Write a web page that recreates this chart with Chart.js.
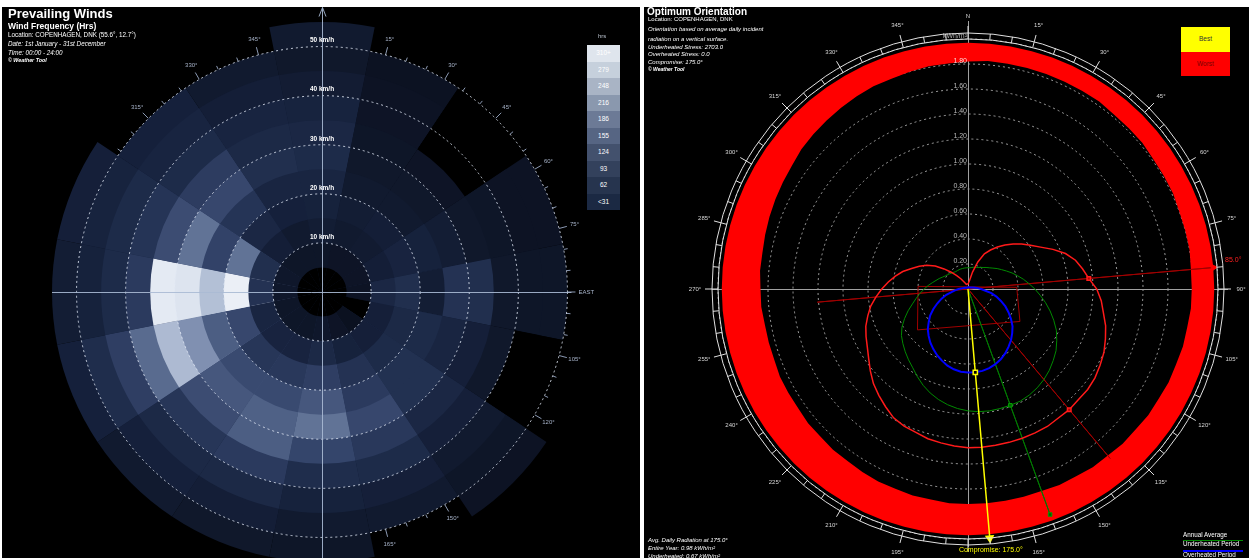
<!DOCTYPE html>
<html>
<head>
<meta charset="utf-8">
<title>Prevailing Winds / Optimum Orientation</title>
<script src="https://cdn.jsdelivr.net/npm/chart.js@4.4.1/dist/chart.umd.min.js"></script>
<style>
  html, body { margin: 0; padding: 0; background: #fff; }
  body { width: 1249px; height: 558px; position: relative; overflow: hidden;
         font-family: "Liberation Sans", Arial, sans-serif; }
  .panel { position: absolute; top: 7px; height: 551px; background: #000; overflow: hidden; }
  #windPanel { left: 2px; width: 638px; }
  #orientPanel { left: 644px; width: 605px; }
  canvas { position: absolute; left: 0; top: 0; }
  .t { position: absolute; color: #fff; white-space: nowrap; }
  .b { font-weight: bold; }
  .i { font-style: italic; }
  #hrsLegend { position: absolute; left: 585px; top: 38px; width: 33px; }
  #hrsLegend div { height: 16.5px; line-height: 16.5px; text-align: center; color: #fff; font-size: 6.5px; }
  #bestWorst { position: absolute; left: 537px; top: 20px; width: 49px; }
  #bestWorst div { height: 24.5px; line-height: 24.5px; text-align: center; font-size: 6.5px; }
  .uline { position: absolute; height: 1px; }
</style>
</head>
<body>
<div class="panel" id="windPanel">
  <canvas id="windChart" width="638" height="600"></canvas>
  <div class="t b" style="left:6px;top:0px;font-size:13px;line-height:13px">Prevailing Winds</div>
  <div class="t b" style="left:6px;top:15px;font-size:8.5px;line-height:8.5px">Wind Frequency (Hrs)</div>
  <div class="t" style="left:6px;top:25px;font-size:6.3px;line-height:6.3px">Location: COPENHAGEN, DNK (55.6°, 12.7°)</div>
  <div class="t i" style="left:6px;top:34px;font-size:6.3px;line-height:6.3px">Date: 1st January - 31st December</div>
  <div class="t i" style="left:6px;top:43px;font-size:6.3px;line-height:6.3px">Time: 00:00 - 24:00</div>
  <div class="t b i" style="left:6px;top:51px;font-size:5.3px;line-height:5.3px">© Weather Tool</div>
  <div class="t" style="left:596px;top:26px;font-size:6px;line-height:6px;color:#b8c0cc">hrs</div>
  <div id="hrsLegend"></div>
</div>
<div class="panel" id="orientPanel">
  <canvas id="orientChart" width="605" height="551"></canvas>
  <div class="t b" style="left:3px;top:0px;font-size:10px;line-height:10px">Optimum Orientation</div>
  <div class="t" style="left:4px;top:9px;font-size:6px;line-height:6px">Location: COPENHAGEN, DNK</div>
  <div class="t i" style="left:4px;top:19px;font-size:6px;line-height:6px">Orientation based on average daily incident</div>
  <div class="t i" style="left:4px;top:29px;font-size:6px;line-height:6px">radiation on a vertical surface.</div>
  <div class="t i" style="left:4px;top:37px;font-size:6px;line-height:6px">Underheated Stress: 2703.0</div>
  <div class="t i" style="left:4px;top:44px;font-size:6px;line-height:6px">Overheated Stress: 0.0</div>
  <div class="t i" style="left:4px;top:52px;font-size:6px;line-height:6px">Compromise: 175.0°</div>
  <div class="t b i" style="left:4px;top:60px;font-size:5px;line-height:5px">© Weather Tool</div>
  <div class="t i" style="left:4px;top:530px;font-size:6px;line-height:6px">Avg. Daily Radiation at 175.0°</div>
  <div class="t i" style="left:4px;top:538px;font-size:6px;line-height:6px">Entire Year: 0.98 kWh/m²</div>
  <div class="t i" style="left:4px;top:546px;font-size:6px;line-height:6px">Underheated: 0.67 kWh/m²</div>
  <div class="t" style="left:539px;top:525px;font-size:6.3px;line-height:6.3px">Annual Average</div>
  <div class="uline" style="left:539px;top:533px;width:60px;background:#008a00"></div>
  <div class="t" style="left:539px;top:534px;font-size:6.3px;line-height:6.3px">Underheated Period</div>
  <div class="uline" style="left:539px;top:543px;width:60px;height:2px;background:#0000ff"></div>
  <div class="t" style="left:539px;top:545px;font-size:6.3px;line-height:6.3px">Overheated Period</div>
  <div id="bestWorst">
    <div style="background:#ffff00;color:#333">Best</div>
    <div style="background:#ff0000;color:#700">Worst</div>
  </div>
</div>
<script>
// ---------- Prevailing winds data (hours per direction, per 5 km/h band) ----------
const directions = ['N','NNE','NE','ENE','E','ESE','SE','SSE','S','SSW','SW','WSW','W','WNW','NW','NNW'];
const speedEdges = [5, 10, 15, 20, 25, 30, 35, 40, 45, 50, 55];
const kmhRings = [10, 20, 30, 40, 50];

const hrs0to5   = [0, 0, 0, 0, 0, 0, 0, 0, 0, 0, 0, 0, 0, 0, 0, 0];
const hrs5to10  = [12, 10, 10, 10, 8, 0, 4, 10, 15, 12, 12, 12, 15, 15, 12, 12];
const hrs10to15 = [25, 20, 22, 28, 50, 30, 30, 35, 55, 40, 40, 45, 80, 70, 28, 20];
const hrs15to20 = [35, 25, 28, 40, 70, 55, 60, 80, 110, 95, 90, 130, 340, 200, 50, 32];
const hrs20to25 = [45, 20, 20, 35, 25, 60, 75, 100, 160, 135, 135, 170, 280, 120, 85, 45];
const hrs25to30 = [60, 16, 16, 25, 80, 45, 75, 130, 200, 175, 160, 235, 320, 200, 130, 70];
const hrs30to35 = [50, 12, 10, 16, 70, 30, 50, 95, 125, 170, 140, 275, 330, 140, 105, 55];
const hrs35to40 = [38, 10, 0, 12, 16, 16, 30, 60, 65, 100, 90, 190, 100, 85, 60, 42];
const hrs40to45 = [24, 8, 0, 8, 12, 0, 20, 30, 35, 55, 55, 110, 60, 60, 42, 28];
const hrs45to50 = [16, 6, 0, 8, 12, 0, 12, 20, 20, 28, 32, 65, 35, 38, 32, 20];
const hrs50to55 = [20, 0, 0, 0, 0, 0, 8, 0, 12, 16, 20, 32, 25, 30, 0, 0];
const speedHours = [hrs0to5, hrs5to10, hrs10to15, hrs15to20, hrs20to25, hrs25to30,
                    hrs30to35, hrs35to40, hrs40to45, hrs45to50, hrs50to55];

const legendLabels = ['310+', '279', '248', '216', '186', '155', '124', '93', '62', '<31'];
const legendColors = ['#dfe5ed', '#c6d0dc', '#a9b4c5', '#8a98ae', '#6c7a96',
                      '#566583', '#43516d', '#33415c', '#26344e', '#1b2943'];

// ---------- Optimum orientation data (kWh/m² by facing angle, 5° steps) ----------
const facing = [];
for (let a = 0; a < 360; a += 5) facing.push(a + '°');

const overheatedRad = [0.04, 0.05, 0.07, 0.14, 0.23, 0.31, 0.36, 0.41, 0.46, 0.51, 0.56, 0.61,
  0.67, 0.75, 0.83, 0.89, 0.93, 0.97, 1.03, 1.07, 1.10, 1.14, 1.17, 1.20,
  1.22, 1.24, 1.25, 1.25, 1.26, 1.26, 1.27, 1.27, 1.27, 1.27, 1.27, 1.27,
  1.27, 1.26, 1.25, 1.24, 1.22, 1.21, 1.19, 1.15, 1.11, 1.07, 1.02, 0.97,
  0.93, 0.90, 0.87, 0.83, 0.79, 0.74, 0.69, 0.64, 0.59, 0.54, 0.48, 0.43,
  0.38, 0.32, 0.25, 0.19, 0.14, 0.10, 0.07, 0.05, 0.04, 0.04, 0.04, 0.04];
const annualRad = [0.17, 0.17, 0.175, 0.18, 0.185, 0.19, 0.20, 0.21, 0.225, 0.24, 0.26, 0.285,
  0.31, 0.34, 0.375, 0.41, 0.45, 0.49, 0.535, 0.58, 0.63, 0.68, 0.73, 0.78,
  0.82, 0.86, 0.89, 0.92, 0.945, 0.965, 0.98, 0.99, 0.99, 0.99, 0.99, 0.985,
  0.975, 0.96, 0.94, 0.915, 0.885, 0.85, 0.81, 0.77, 0.74, 0.71, 0.68, 0.65,
  0.61, 0.56, 0.51, 0.46, 0.42, 0.385, 0.35, 0.32, 0.29, 0.265, 0.245, 0.225,
  0.21, 0.20, 0.19, 0.18, 0.175, 0.17, 0.17, 0.17, 0.17, 0.17, 0.17, 0.17];
const underheatedRad = [0.012, 0.012, 0.013, 0.013, 0.014, 0.014, 0.015, 0.016, 0.017, 0.018, 0.02, 0.022,
  0.025, 0.03, 0.036, 0.045, 0.06, 0.08, 0.105, 0.135, 0.19, 0.235, 0.28, 0.33,
  0.375, 0.42, 0.465, 0.50, 0.535, 0.565, 0.595, 0.62, 0.64, 0.655, 0.665, 0.668,
  0.668, 0.664, 0.652, 0.635, 0.61, 0.585, 0.555, 0.525, 0.49, 0.455, 0.41, 0.37,
  0.32, 0.27, 0.225, 0.18, 0.13, 0.10, 0.075, 0.055, 0.04, 0.032, 0.027, 0.022,
  0.02, 0.018, 0.016, 0.015, 0.014, 0.013, 0.013, 0.012, 0.012, 0.012, 0.012, 0.012];
const bandInner = [1.82, 1.83, 1.83, 1.83, 1.83, 1.83, 1.83, 1.83, 1.82, 1.82, 1.82, 1.81,
  1.81, 1.81, 1.80, 1.80, 1.80, 1.79, 1.79, 1.79, 1.78, 1.78, 1.77, 1.77,
  1.76, 1.76, 1.75, 1.75, 1.74, 1.74, 1.73, 1.73, 1.72, 1.72, 1.72, 1.72,
  1.72, 1.72, 1.71, 1.71, 1.70, 1.70, 1.69, 1.68, 1.68, 1.67, 1.67, 1.66,
  1.66, 1.66, 1.65, 1.65, 1.65, 1.66, 1.66, 1.67, 1.67, 1.68, 1.69, 1.70,
  1.71, 1.72, 1.74, 1.75, 1.76, 1.77, 1.78, 1.79, 1.79, 1.80, 1.81, 1.81];
const bandOuter = 1.97;

const bestAngle = 85, bestValue = 1.97, bestBackValue = 1.21;
const worstAngle = 140, worstValue = 1.77;
const annualBestAngle = 160, annualBestValue = 1.92;
const compromiseAngle = 175, compromiseValue = 2.0, compromiseUnder = 0.67;
const buildingOutline = [[273, 0.40], [231, 0.52], [122, 0.49], [88, 0.39]];
const radRings = [0.2, 0.4, 0.6, 0.8, 1.0, 1.2, 1.4, 1.6, 1.8];

// ---------- helpers ----------
function hex(c) { return [1, 3, 5].map(i => parseInt(c.substr(i, 2), 16)); }
const shadeSteps  = [0, 31, 62, 93, 124, 155, 186, 216, 248, 279, 310, 345];
const shadeColors = ['#0a0f1c', '#15203a', '#1e2c4a', '#28375a', '#34446a', '#43547a',
                     '#56688c', '#6e7fa2', '#8d9cbb', '#b2bfd5', '#d6dfec', '#eef2f8'];
function hoursColor(h) {
  for (let i = 1; i < shadeSteps.length; i++) {
    if (h <= shadeSteps[i] || i === shadeSteps.length - 1) {
      const t = Math.min(1, (h - shadeSteps[i - 1]) / (shadeSteps[i] - shadeSteps[i - 1]));
      const a = hex(shadeColors[i - 1]), b = hex(shadeColors[i]);
      return 'rgb(' + a.map((v, k) => Math.round(v + (b[k] - v) * t)).join(',') + ')';
    }
  }
}
function polarXY(scale, deg, dist) {
  const a = (deg - 90) * Math.PI / 180;
  return [scale.xCenter + Math.cos(a) * dist, scale.yCenter + Math.sin(a) * dist];
}

legendLabels.forEach((lab, i) => {
  const d = document.createElement('div');
  d.style.background = legendColors[i];
  d.textContent = lab;
  document.getElementById('hrsLegend').appendChild(d);
});

// ---------- wind rose ----------
const windDecor = {
  id: 'windDecor',
  beforeDatasetsDraw(chart) {
    const s = chart.scales.r, ctx = chart.ctx;
    const R = s.getDistanceFromCenterForValue(50);
    ctx.save();
    ctx.strokeStyle = '#8c9ab4';
    ctx.fillStyle = '#a6b2c8';
    ctx.lineWidth = 1;
    ctx.font = '6px "Liberation Sans", Arial, sans-serif';
    ctx.textAlign = 'center';
    ctx.textBaseline = 'middle';
    for (let d = 0; d < 360; d += 5) {
      const major = d % 15 === 0;
      const p1 = polarXY(s, d, R), p2 = polarXY(s, d, R + (major ? 8 : 4));
      ctx.beginPath(); ctx.moveTo(p1[0], p1[1]); ctx.lineTo(p2[0], p2[1]); ctx.stroke();
      if (major && d !== 0) {
        const p = polarXY(s, d, R + (d === 90 ? 19 : 16));
        ctx.fillText(d === 90 ? 'EAST' : d + '°', p[0], p[1]);
      }
    }
    ctx.restore();
  },
  afterDraw(chart) {
    const s = chart.scales.r, ctx = chart.ctx;
    const cx = s.xCenter, cy = s.yCenter;
    const R = s.getDistanceFromCenterForValue(50);
    ctx.save();
    // dotted speed rings drawn over the cells
    ctx.strokeStyle = 'rgba(225,232,245,0.85)';
    ctx.setLineDash([2, 3]);
    kmhRings.forEach(v => {
      ctx.beginPath();
      ctx.arc(cx, cy, s.getDistanceFromCenterForValue(v), 0, Math.PI * 2);
      ctx.stroke();
    });
    ctx.setLineDash([]);
    ctx.strokeStyle = 'rgba(170,186,212,0.9)';
    ctx.lineWidth = 1;
    ctx.beginPath();
    ctx.moveTo(cx - s.drawingArea, cy + 0.5); ctx.lineTo(cx + R + 4, cy + 0.5);
    ctx.moveTo(cx + 0.5, cy - R - 39); ctx.lineTo(cx + 0.5, cy + s.drawingArea + 20);
    ctx.moveTo(cx - 3, cy - R - 30); ctx.lineTo(cx + 0.5, cy - R - 39); ctx.lineTo(cx + 4, cy - R - 30);
    ctx.stroke();
    ctx.fillStyle = '#ffffff';
    ctx.font = 'bold 6.5px "Liberation Sans", Arial, sans-serif';
    ctx.textAlign = 'center';
    ctx.textBaseline = 'middle';
    kmhRings.forEach(v => ctx.fillText(v + ' km/h', cx, cy - s.getDistanceFromCenterForValue(v) - 6));
    ctx.restore();
  }
};

new Chart(document.getElementById('windChart'), {
  type: 'polarArea',
  data: {
    labels: directions,
    datasets: speedEdges.map((edge, k) => ({
      label: (edge - 5) + '-' + edge + ' km/h',
      data: directions.map(() => edge),
      backgroundColor: speedHours[k].map(h => h > 0 ? hoursColor(h)
        : (k === speedEdges.length - 1 ? 'rgba(0,0,0,0)' : '#000000')),
      borderWidth: 0
    }))
  },
  options: {
    responsive: false,
    animation: false,
    events: [],
    devicePixelRatio: 1,
    layout: { padding: { left: 50, right: 48, top: 15, bottom: 45 } },
    plugins: { legend: { display: false }, tooltip: { enabled: false } },
    scales: {
      r: {
        min: 0, max: 55, startAngle: -11.25,
        ticks: { display: false, stepSize: 10, showLabelBackdrop: false },
        pointLabels: { display: false },
        angleLines: { display: false },
        grid: { display: false }
      }
    }
  },
  plugins: [windDecor]
});

// ---------- optimum orientation ----------
const orientDecor = {
  id: 'orientDecor',
  beforeDatasetsDraw(chart) {
    const s = chart.scales.r, ctx = chart.ctx;
    const cx = s.xCenter, cy = s.yCenter, R = s.drawingArea;
    ctx.save();
    ctx.strokeStyle = '#a0a0a0';
    ctx.lineWidth = 1;
    ctx.beginPath();
    ctx.moveTo(cx - R - 6, cy + 0.5); ctx.lineTo(cx + R + 10, cy + 0.5);
    ctx.moveTo(cx + 0.5, cy - R - 18); ctx.lineTo(cx + 0.5, cy + R + 8);
    ctx.stroke();
    ctx.strokeStyle = '#a00000';
    ctx.beginPath();
    buildingOutline.forEach((p, i) => {
      const q = polarXY(s, p[0], s.getDistanceFromCenterForValue(p[1]));
      if (i === 0) ctx.moveTo(q[0], q[1]); else ctx.lineTo(q[0], q[1]);
    });
    ctx.closePath();
    ctx.stroke();
    ctx.restore();
  },
  afterDraw(chart) {
    const s = chart.scales.r, ctx = chart.ctx;
    const cx = s.xCenter, cy = s.yCenter;
    const R = s.getDistanceFromCenterForValue(2);
    ctx.save();
    ctx.font = '7px "Liberation Sans", Arial, sans-serif';
    ctx.textAlign = 'right';
    ctx.textBaseline = 'middle';
    radRings.forEach(v => {
      ctx.fillStyle = v > 1.7 ? '#ffd0d0' : '#b8b8b8';
      ctx.fillText(v.toFixed(2), cx - 1, cy - s.getDistanceFromCenterForValue(v) - 3);
    });
    ctx.fillStyle = '#b0b0b0';
    ctx.fillText('kWh/m²', cx - 1, cy - R - 3);
    ctx.strokeStyle = '#e0e0e0';
    ctx.lineWidth = 1;
    ctx.beginPath(); ctx.arc(cx, cy, R, 0, Math.PI * 2); ctx.stroke();
    ctx.beginPath(); ctx.arc(cx, cy, R + 6, 0, Math.PI * 2); ctx.stroke();
    ctx.font = '6px "Liberation Sans", Arial, sans-serif';
    ctx.textAlign = 'center';
    ctx.fillStyle = '#d6d6d6';
    for (let d = 0; d < 360; d += 5) {
      const major = d % 15 === 0;
      const p1 = polarXY(s, d, R), p2 = polarXY(s, d, R + (major ? 13 : 6));
      ctx.beginPath(); ctx.moveTo(p1[0], p1[1]); ctx.lineTo(p2[0], p2[1]); ctx.stroke();
      if (major && d !== 180) {
        const p = polarXY(s, d, R + 23);
        ctx.fillText(d === 0 ? 'N' : d + '°', p[0], p[1]);
      }
    }
    ctx.font = '7px "Liberation Sans", Arial, sans-serif';
    ctx.fillStyle = '#ff2020';
    ctx.textAlign = 'left';
    const b = polarXY(s, bestAngle, R + 8);
    ctx.fillText(bestAngle.toFixed(1) + '°', b[0], b[1] - 6);
    ctx.fillStyle = '#ffff00';
    ctx.textAlign = 'center';
    const c = polarXY(s, compromiseAngle, R + 12);
    ctx.fillText('Compromise: ' + compromiseAngle.toFixed(1) + '°', c[0], c[1]);
    ctx.restore();
  }
};

const idxOf = a => facing.indexOf(a + '°');
const spikeData = pairs => facing.map((f, i) => {
  const hit = pairs.find(p => idxOf(p[0]) === i);
  return hit ? hit[1] : 0;
});
const markAt = (angles, size) => c => angles.map(idxOf).includes(c.dataIndex) ? size : 0;

new Chart(document.getElementById('orientChart'), {
  type: 'radar',
  data: {
    labels: facing,
    datasets: [
      { label: 'Compromise marker', data: facing.map((f, i) => i === idxOf(compromiseAngle) ? compromiseUnder : null),
        showLine: false, pointStyle: 'rect', pointRadius: 3, borderColor: '#ffff00', pointBorderWidth: 1.5,
        backgroundColor: '#000' },
      { label: 'Compromise', data: spikeData([[compromiseAngle, compromiseValue]]),
        borderColor: '#ffff00', borderWidth: 1.5, fill: false, pointStyle: 'triangle',
        pointRotation: compromiseAngle, pointRadius: markAt([compromiseAngle], 4),
        pointBackgroundColor: '#ffff00', pointBorderColor: '#ffff00' },
      { label: 'Overheated Period', data: overheatedRad, borderColor: '#ff1a1a', borderWidth: 1.5, fill: false,
        pointStyle: 'rect', pointRadius: markAt([bestAngle, worstAngle], 2.5),
        pointBackgroundColor: '#b00000', pointBorderColor: '#ff1a1a' },
      { label: 'Underheated Period', data: underheatedRad, borderColor: '#0000ff', borderWidth: 2, fill: false,
        pointRadius: 0 },
      { label: 'Annual Average', data: annualRad, borderColor: '#008a00', borderWidth: 1, fill: false,
        pointStyle: 'rect', pointRadius: markAt([annualBestAngle], 2.5),
        pointBackgroundColor: '#006000', pointBorderColor: '#00a000' },
      { label: 'Annual best', data: spikeData([[annualBestAngle, annualBestValue]]),
        borderColor: '#007a00', borderWidth: 1, fill: false,
        pointStyle: 'rect', pointRadius: markAt([annualBestAngle], 2.5),
        pointBackgroundColor: '#006000', pointBorderColor: '#00a000' },
      { label: 'Best / worst', data: spikeData([[bestAngle, bestValue], [bestAngle + 180, bestBackValue], [worstAngle, worstValue]]),
        borderColor: '#a00000', borderWidth: 1, fill: false,
        pointStyle: 'triangle', pointRotation: bestAngle, pointRadius: markAt([bestAngle], 4),
        pointBackgroundColor: '#ff0000', pointBorderColor: '#ff0000' },
      { label: 'Band outer', data: facing.map(() => bandOuter), borderWidth: 0, pointRadius: 0,
        backgroundColor: '#ff0000', fill: '+1',
        segment: { backgroundColor: c => {
          const a = c.p0DataIndex * 5;
          return (a >= 170 && a < 200) ? '#b80000' : ((a >= 155 && a < 215) ? '#d40000' : '#ff0000');
        } } },
      { label: 'Band inner', data: bandInner, borderWidth: 0, pointRadius: 0, fill: false }
    ]
  },
  options: {
    responsive: false,
    animation: false,
    events: [],
    devicePixelRatio: 1,
    layout: { padding: { left: 74, right: 31, top: 32, bottom: 19 } },
    elements: { line: { tension: 0 } },
    plugins: { legend: { display: false }, tooltip: { enabled: false } },
    scales: {
      r: {
        min: 0, max: 2, startAngle: 0,
        ticks: { display: false, stepSize: 0.2, showLabelBackdrop: false },
        pointLabels: { display: false },
        angleLines: { display: false },
        grid: { circular: true, color: 'rgba(220,220,220,0.7)', lineWidth: 1 },
        border: { dash: [2, 3] }
      }
    }
  },
  plugins: [orientDecor]
});
</script>
</body>
</html>
